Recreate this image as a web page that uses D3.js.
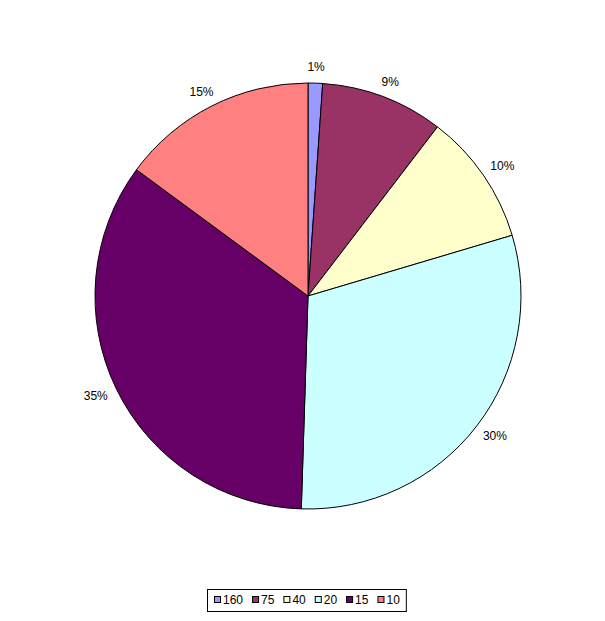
<!DOCTYPE html>
<html><head><meta charset="utf-8">
<script src="https://cdn.jsdelivr.net/npm/d3@7"></script>
<style>body{margin:0;background:#fff}svg{display:block}text{font-family:"Liberation Sans",Arial,sans-serif;font-size:12px;fill:#000}</style>
</head><body>
<svg id="c" width="605" height="621"></svg>
<script>
const categories = ["160","75","40","20","15","10"];
const values = [1.1, 9.3, 10.0, 30.1, 34.6, 14.9];
const colors = ["#9999FF","#993366","#FFFFCC","#CCFFFF","#660066","#FF8080"];

const svg = d3.select("#c");
const cx = 308, cy = 296, r = 213;
const data = categories.map((c,i)=>({cat:c,value:values[i],color:colors[i]}));
const pie = d3.pie().value(d=>d.value).sort(null);
const arcs = pie(data);
const arc = d3.arc().innerRadius(0).outerRadius(r);
const g = svg.append("g").attr("transform",`translate(${cx},${cy})`);
g.selectAll("path").data(arcs).join("path")
  .attr("d",arc).attr("fill",d=>d.data.color)
  .attr("stroke","#000").attr("stroke-width",1).attr("stroke-linejoin","round");

const total = d3.sum(values);
g.selectAll("text.lbl").data(arcs).join("text").attr("class","lbl")
  .each(function(d){
    const a=(d.startAngle+d.endAngle)/2;
    const s=Math.sin(a), c=-Math.cos(a);
    const R=224;
    const txt=Math.round(d.data.value/total*100)+"%";
    const t=d3.select(this).text(txt);
    const w=this.getComputedTextLength();
    const x=R*s + s*w/2, y=R*c + c*5;
    t.attr("x",x).attr("y",y).attr("text-anchor","middle").attr("dy","0.35em");
  });

// legend
const lg = svg.append("g");
const box = lg.append("rect").attr("x",207.5).attr("y",589.5).attr("height",22).attr("fill","#fff").attr("stroke","#000");
let x = 214;
data.forEach(d=>{
  lg.append("rect").attr("x",x+0.5).attr("y",596.5).attr("width",6).attr("height",6).attr("fill",d.color).attr("stroke","#000");
  const t = lg.append("text").attr("x",x+9).attr("y",600).attr("dy","0.35em").text(d.cat);
  x += 9 + t.node().getComputedTextLength() + 9;
});
box.attr("width", x - 207 - 3);
</script>
</body></html>
